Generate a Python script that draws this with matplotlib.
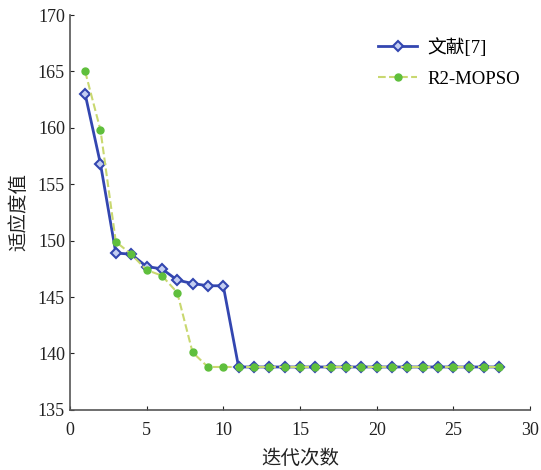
import matplotlib
matplotlib.use('Agg')
import matplotlib.pyplot as plt

# data
iters = list(range(1, 29))
ref7 = [163.0, 156.8, 148.9, 148.8, 147.7, 147.5, 146.5, 146.2, 146.0, 146.0] + [138.8] * 18
r2mopso = [165.0, 159.8, 149.9, 148.8, 147.4, 146.9, 145.4, 140.1, 138.8, 138.8] + [138.8] * 18
labels = ['文献[7]', 'R2-MOPSO']
xticks = [0, 5, 10, 15, 20, 25, 30]
yticks = [135, 140, 145, 150, 155, 160, 165, 170]

plt.rcParams['font.family'] = ['Liberation Serif', 'Noto Sans CJK SC']

fig = plt.figure(figsize=(5.41, 4.70), dpi=100)
ax = fig.add_axes([0.129, 0.128, 0.851, 0.84])

ax.plot(iters, ref7, color='#3346b0', lw=2.0, marker='D', ms=5.5,
        mfc='#c4cef2', mec='#3346b0', mew=1.5, label=labels[0], zorder=3)
ax.plot(iters, r2mopso, color='#c9d870', lw=1.5, ls='--', marker='o', ms=5,
        mfc='#5fbf3c', mec='#5fbf3c', label=labels[1], zorder=4)

ax.set_xlim(0, 30)
ax.set_ylim(135, 170)
ax.set_xticks(xticks)
ax.set_yticks(yticks)
ax.tick_params(direction='in', length=3, labelsize=13, colors='#222222')
ax.tick_params(axis='x', pad=9)
for s in ['top', 'right']:
    ax.spines[s].set_visible(False)
for s in ['left', 'bottom']:
    ax.spines[s].set_color('#555555')
    ax.spines[s].set_linewidth(1.2)

ax.set_xlabel('迭代次数', fontsize=14, family=['Noto Sans CJK SC'], labelpad=6, color='#222222')
ax.set_ylabel('适应度值', fontsize=14, family=['Noto Sans CJK SC'], labelpad=6, color='#222222')

leg = ax.legend(loc='upper right', frameon=False, fontsize=13.5,
                bbox_to_anchor=(1.015, 0.985), handlelength=2.1,
                handletextpad=0.55, labelspacing=0.75)

fig.savefig('out.png', dpi=100)
